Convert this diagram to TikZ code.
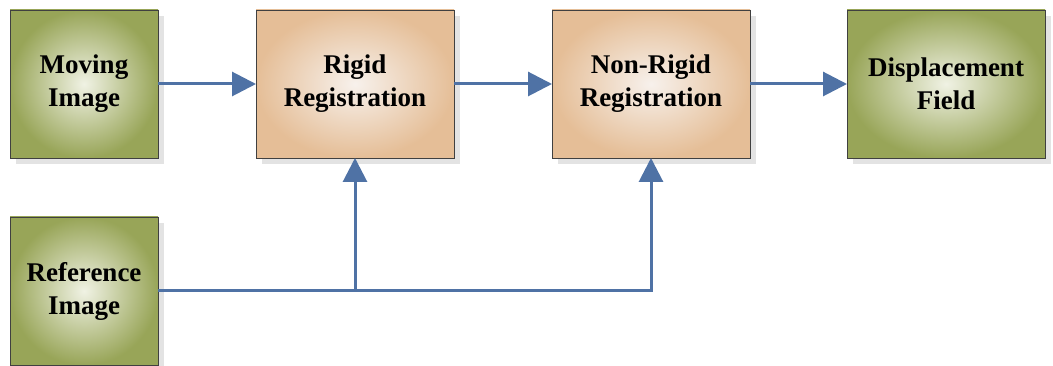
\documentclass[tikz,border=0pt]{standalone}
\usepackage{fontspec}
\setmainfont{Liberation Serif}
\usepackage{tikz}
\usetikzlibrary{arrows.meta,calc}
\usetikzlibrary{shadows}
\usetikzlibrary{positioning}
\definecolor{oliveedge}{RGB}{152,165,88}
\definecolor{olivecore}{RGB}{240,242,228}
\definecolor{peachedge}{RGB}{229,190,151}
\definecolor{peachcore}{RGB}{247,241,236}
\definecolor{boxline}{RGB}{64,64,64}
\definecolor{flowblue}{RGB}{79,114,165}
\tikzstyle{flow}=[-{Triangle[length=24pt,width=24pt]}, line width=3pt, draw=flowblue]
\tikzstyle{block}=[rectangle, draw=boxline, line width=0.8pt, text=black,
		drop shadow={shadow xshift=6pt, shadow yshift=-6pt, fill=black!11, opacity=1},
		minimum height=148pt, inner sep=0pt, outer sep=0pt, align=center,
		font=\fontsize{27}{33}\selectfont\bfseries]
\tikzstyle{inout}=[block, minimum width=148pt, inner color=olivecore, outer color=oliveedge]
\tikzstyle{stage}=[block, minimum width=198pt, inner color=peachcore, outer color=peachedge]

\begin{document}
\begin{tikzpicture}[node distance=98pt]

    \useasboundingbox (0,0) rectangle (1053pt,-366pt);

    \node (Moving) [inout] at (84pt,-84pt) {Moving\\Image};

    \node (Rigid) [stage, right=of Moving] {Rigid\\Registration};

    \node (NonRigid) [stage, right=of Rigid] {Non-Rigid\\Registration};

    \node (Field) [block, minimum width=198pt, inner color=olivecore,
    		       outer color=oliveedge, right=97pt of NonRigid] {Displacement\\Field};

    \node (Reference) [inout, below=59pt of Moving] {Reference\\Image};

    \coordinate (Split) at (Reference.east -| Rigid.south);

    \draw [flow] (Moving) -- (Rigid);
    \draw [flow] (Rigid) -- (NonRigid);
    \draw [flow] (NonRigid) -- (Field);
    \draw [flow] (Reference.east) -| (NonRigid.south);
    \draw [flow] (Split) -- (Rigid.south);

\end{tikzpicture}
\end{document}
